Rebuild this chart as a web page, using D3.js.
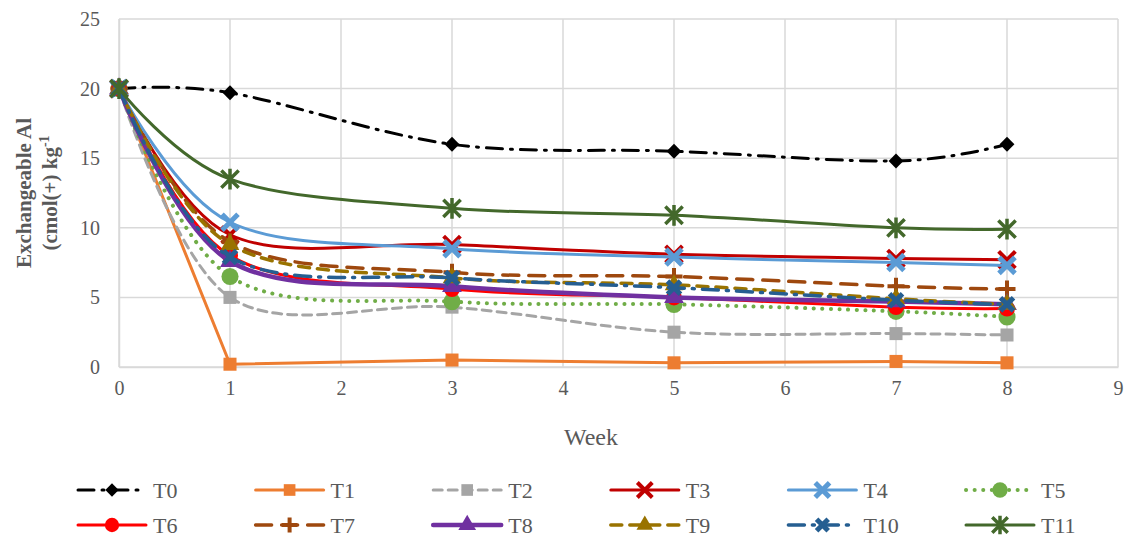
<!DOCTYPE html>
<html>
<head>
<meta charset="utf-8">
<script src="https://cdn.jsdelivr.net/npm/d3@7"></script>
<style>
  text { font-family: "Liberation Serif", "Times New Roman", serif !important; }
</style>
</head>
<body style="margin:0; background:#fff">
<script>
// weeks sampled
var weeks = [0, 1, 3, 5, 7, 8];
var xTicks = [0, 1, 2, 3, 4, 5, 6, 7, 8, 9];
var yTicks = [0, 5, 10, 15, 20, 25];

// exchangeable Al per treatment
var T0 = [20, 19.7, 16.0, 15.5, 14.8, 16.0];
var T1 = [20, 0.2, 0.5, 0.3, 0.4, 0.3];
var T2 = [20, 5.0, 4.3, 2.5, 2.4, 2.3];
var T3 = [20, 9.5, 8.8, 8.1, 7.8, 7.7];
var T4 = [20, 10.4, 8.5, 7.9, 7.5, 7.3];
var T5 = [20, 6.5, 4.7, 4.5, 4.0, 3.6];
var T6 = [20, 8.0, 5.6, 5.0, 4.3, 4.2];
var T7 = [20, 9.0, 6.8, 6.5, 5.8, 5.6];
var T8 = [20, 7.6, 5.8, 5.0, 4.7, 4.5];
var T9 = [20, 8.8, 6.4, 5.9, 4.9, 4.5];
var T10 = [20, 7.9, 6.4, 5.7, 4.8, 4.5];
var T11 = [20, 13.5, 11.4, 10.9, 10.0, 9.9];

var names = ["T0", "T1", "T2", "T3", "T4", "T5", "T6", "T7", "T8", "T9", "T10", "T11"];
var values = [T0, T1, T2, T3, T4, T5, T6, T7, T8, T9, T10, T11];

var FONT = "Liberation Serif";

// custom marker shapes for d3.symbol
var symDiamond = { draw: function(c, s) { var r = Math.sqrt(s) / 2; c.moveTo(0, -r); c.lineTo(r, 0); c.lineTo(0, r); c.lineTo(-r, 0); c.closePath(); } };
var symTimes = { draw: function(c, s) { var r = Math.sqrt(s) / 2; c.moveTo(-r, -r); c.lineTo(r, r); c.moveTo(-r, r); c.lineTo(r, -r); } };
var symPlus = { draw: function(c, s) { var r = Math.sqrt(s) / 2; c.moveTo(-r, 0); c.lineTo(r, 0); c.moveTo(0, -r); c.lineTo(0, r); } };
var symStar = { draw: function(c, s) { var r = Math.sqrt(s) / 2; c.moveTo(-r, -r); c.lineTo(r, r); c.moveTo(-r, r); c.lineTo(r, -r); c.moveTo(0, -r * 1.2); c.lineTo(0, r * 1.2); } };

var styles = {
    T0: { color: "#000000", width: 3, dash: "16 8 2 8", smooth: true, shape: symDiamond, size: 220, fill: true },
    T1: { color: "#ED7D31", width: 3, dash: null, smooth: false, shape: d3.symbolSquare, size: 170, fill: true },
    T2: { color: "#A5A5A5", width: 3, dash: "9 6", smooth: true, shape: d3.symbolSquare, size: 170, fill: true },
    T3: { color: "#C00000", width: 3, dash: null, smooth: true, shape: symTimes, size: 280, fill: false, sw: 4 },
    T4: { color: "#5B9BD5", width: 3, dash: null, smooth: true, shape: symTimes, size: 256, fill: false, sw: 5 },
    T5: { color: "#70AD47", width: 4, dash: "0.1 8.5", smooth: true, shape: d3.symbolCircle, size: 230, fill: true },
    T6: { color: "#FF0000", width: 3, dash: null, smooth: true, shape: d3.symbolCircle, size: 200, fill: true },
    T7: { color: "#9E480E", width: 3.5, dash: "16 10", smooth: true, shape: symPlus, size: 290, fill: false, sw: 4 },
    T8: { color: "#7030A0", width: 4.5, dash: null, smooth: true, shape: d3.symbolTriangle, size: 170, fill: true },
    T9: { color: "#997300", width: 3.5, dash: "11 8", smooth: true, shape: d3.symbolTriangle, size: 150, fill: true },
    T10: { color: "#255E91", width: 3.5, dash: "16 8 2 8", smooth: true, shape: symTimes, size: 170, fill: false, sw: 5 },
    T11: { color: "#43682B", width: 3, dash: null, smooth: true, shape: symStar, size: 300, fill: false, sw: 3.5 }
};

var W = 1126, H = 538;
var svg = d3.select("body").append("svg").attr("width", W).attr("height", H)
    .attr("font-family", FONT);

var x = d3.scaleLinear().domain([0, 9]).range([119, 1118]);
var y = d3.scaleLinear().domain([0, 25]).range([367, 19]);

// gridlines
svg.append("g").selectAll("line.h").data(yTicks).enter().append("line")
    .attr("x1", x(0)).attr("x2", x(9))
    .attr("y1", function(d) { return y(d); }).attr("y2", function(d) { return y(d); })
    .attr("stroke", "#d9d9d9").attr("stroke-width", 1.5);
svg.append("g").selectAll("line.v").data(xTicks).enter().append("line")
    .attr("y1", y(0)).attr("y2", y(25))
    .attr("x1", function(d) { return x(d); }).attr("x2", function(d) { return x(d); })
    .attr("stroke", "#d9d9d9").attr("stroke-width", 1.5);

// axes (labels only, lines come from the grid)
var yAxis = svg.append("g").attr("transform", "translate(" + x(0) + ",0)")
    .call(d3.axisLeft(y).tickValues(yTicks).tickSize(0).tickPadding(19));
var xAxis = svg.append("g").attr("transform", "translate(0," + y(0) + ")")
    .call(d3.axisBottom(x).tickValues(xTicks).tickSize(0).tickPadding(14));
[xAxis, yAxis].forEach(function(a) {
    a.attr("font-family", FONT).attr("font-size", 20);
    a.select(".domain").attr("stroke", "#d9d9d9").attr("stroke-width", 1.5);
    a.selectAll("text").attr("fill", "#595959");
});

svg.append("text").attr("x", 591).attr("y", 445).attr("text-anchor", "middle")
    .attr("font-size", 24).attr("fill", "#595959").text("Week");

svg.append("text").attr("transform", "translate(31,193) rotate(-90)")
    .attr("text-anchor", "middle").attr("fill", "#595959")
    .attr("font-size", 21).attr("font-weight", "bold")
    .text("Exchangeable Al");
var t2 = svg.append("text").attr("transform", "translate(57,193) rotate(-90)")
    .attr("text-anchor", "middle").attr("fill", "#595959")
    .attr("font-size", 21).attr("font-weight", "bold");
t2.append("tspan").text("(cmol(+) kg");
t2.append("tspan").attr("dy", "-8").attr("font-size", 14).text("-1");

var smoothLine = d3.line().curve(d3.curveCardinal.tension(0))
    .x(function(d) { return x(d[0]); }).y(function(d) { return y(d[1]); });
var straightLine = d3.line()
    .x(function(d) { return x(d[0]); }).y(function(d) { return y(d[1]); });

function styleMarker(sel, st) {
    if (st.fill) {
        sel.attr("fill", st.color).attr("stroke", "none");
    } else {
        sel.attr("fill", "none").attr("stroke", st.color).attr("stroke-width", st.sw);
    }
}

names.forEach(function(name, i) {
    var st = styles[name];
    var pts = weeks.map(function(w, j) { return [w, values[i][j]]; });
    var g = svg.append("g").attr("class", "series");
    g.append("path")
        .attr("d", (st.smooth ? smoothLine : straightLine)(pts))
        .attr("fill", "none")
        .attr("stroke", st.color)
        .attr("stroke-width", st.width)
        .attr("stroke-linecap", "round")
        .attr("stroke-linejoin", "round")
        .attr("stroke-dasharray", st.dash);
    g.selectAll("path.mk").data(pts).enter().append("path")
        .attr("class", "mk")
        .attr("transform", function(d) { return "translate(" + x(d[0]) + "," + y(d[1]) + ")"; })
        .attr("d", d3.symbol().type(st.shape).size(st.size)())
        .call(styleMarker, st);
});

// legend
var legend = svg.append("g");
names.forEach(function(name, i) {
    var st = styles[name];
    var col = i % 6, row = Math.floor(i / 6);
    var lx = 78 + col * 177.6, ly = 490 + row * 35;
    var item = legend.append("g").attr("transform", "translate(" + lx + "," + ly + ")");
    item.append("line").attr("x1", 0).attr("x2", 68).attr("y1", 0).attr("y2", 0)
        .attr("stroke", st.color).attr("stroke-width", st.width)
        .attr("stroke-linecap", "round").attr("stroke-dasharray", st.dash);
    item.append("path").attr("transform", "translate(34,0)")
        .attr("d", d3.symbol().type(st.shape).size(st.size * 0.8)())
        .call(styleMarker, st);
    item.append("text").attr("x", 75).attr("y", 8).attr("fill", "#595959")
        .attr("font-size", 22).text(name);
});
</script>
</body>
</html>
